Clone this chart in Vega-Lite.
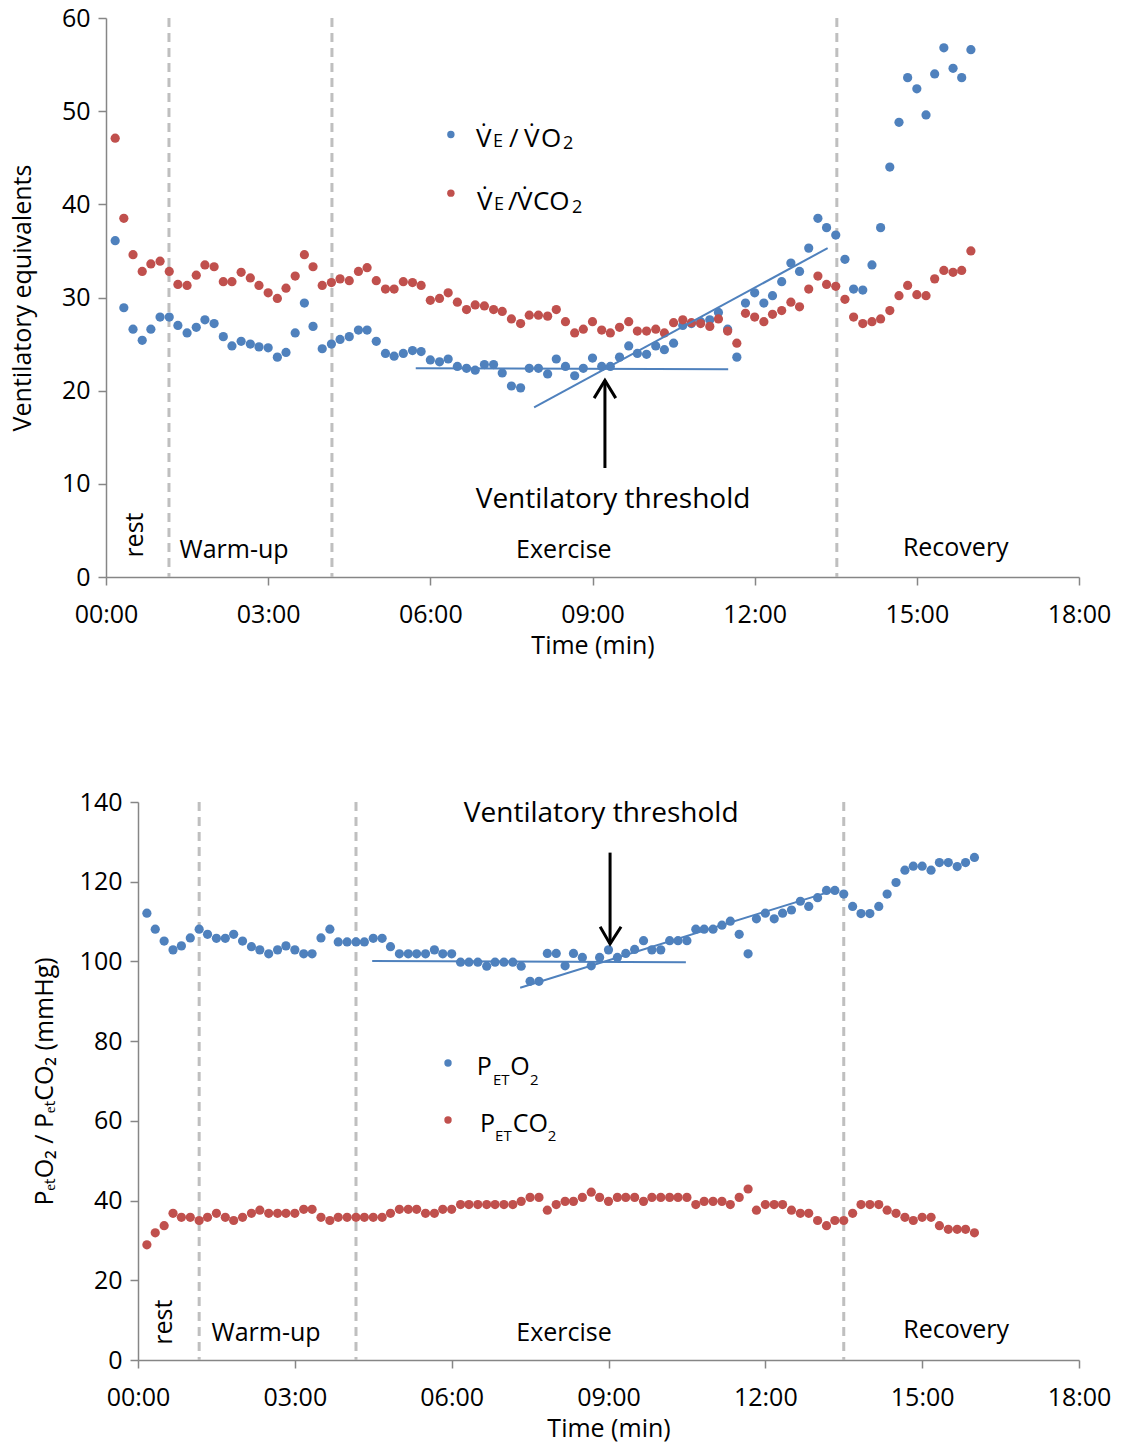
{
"$schema": "https://vega.github.io/schema/vega-lite/v6.json",
"padding": {"left": 10, "top": 6, "right": 5, "bottom": 5},
"spacing": 132,
"config": {
  "view": {"stroke": null},
  "font": "Open Sans",
  "axis": {"grid": false, "labelFlush": false, "labelOverlap": false, "labelFont": "Open Sans", "labelFontSize": 25, "labelColor": "black", "titleFont": "Open Sans", "titleFontSize": 25, "titleFontWeight": "normal", "titleColor": "black", "domainColor": "#868686", "domainWidth": 1.5, "tickColor": "#868686", "tickWidth": 1.5, "tickSize": 8},
  "text": {"font": "Open Sans", "color": "black"}
},
"datasets": {
  "top": [
{"t":0.17,"a":36.1,"b":47.1},{"t":0.33,"a":28.9,"b":38.5},{"t":0.5,"a":26.6,"b":34.6},{"t":0.67,"a":25.4,"b":32.8},{"t":0.83,"a":26.6,"b":33.6},{"t":1,"a":27.9,"b":33.9},
{"t":1.17,"a":27.9,"b":32.8},{"t":1.33,"a":27.0,"b":31.4},{"t":1.5,"a":26.2,"b":31.3},{"t":1.67,"a":26.8,"b":32.4},{"t":1.83,"a":27.6,"b":33.5},{"t":2,"a":27.2,"b":33.3},
{"t":2.17,"a":25.8,"b":31.7},{"t":2.33,"a":24.8,"b":31.7},{"t":2.5,"a":25.3,"b":32.7},{"t":2.67,"a":25.0,"b":32.1},{"t":2.83,"a":24.7,"b":31.3},{"t":3,"a":24.6,"b":30.5},
{"t":3.17,"a":23.6,"b":29.9},{"t":3.33,"a":24.1,"b":31.0},{"t":3.5,"a":26.2,"b":32.3},{"t":3.67,"a":29.4,"b":34.6},{"t":3.83,"a":26.9,"b":33.3},{"t":4,"a":24.5,"b":31.3},
{"t":4.17,"a":25.0,"b":31.6},{"t":4.33,"a":25.5,"b":32.0},{"t":4.5,"a":25.8,"b":31.8},{"t":4.67,"a":26.5,"b":32.8},{"t":4.83,"a":26.5,"b":33.2},{"t":5,"a":25.3,"b":31.8},
{"t":5.17,"a":24.0,"b":30.9},{"t":5.33,"a":23.7,"b":30.9},{"t":5.5,"a":24.0,"b":31.7},{"t":5.67,"a":24.3,"b":31.6},{"t":5.83,"a":24.2,"b":31.3},{"t":6,"a":23.3,"b":29.7},
{"t":6.17,"a":23.1,"b":29.9},{"t":6.33,"a":23.4,"b":30.5},{"t":6.5,"a":22.6,"b":29.5},{"t":6.67,"a":22.4,"b":28.7},{"t":6.83,"a":22.2,"b":29.2},{"t":7,"a":22.8,"b":29.1},
{"t":7.17,"a":22.8,"b":28.7},{"t":7.33,"a":21.9,"b":28.5},{"t":7.5,"a":20.5,"b":27.7},{"t":7.67,"a":20.3,"b":27.2},{"t":7.83,"a":22.4,"b":28.1},{"t":8,"a":22.4,"b":28.1},
{"t":8.17,"a":21.8,"b":28.0},{"t":8.33,"a":23.4,"b":28.7},{"t":8.5,"a":22.6,"b":27.4},{"t":8.67,"a":21.6,"b":26.2},{"t":8.83,"a":22.4,"b":26.6},{"t":9,"a":23.5,"b":27.4},
{"t":9.17,"a":22.6,"b":26.5},{"t":9.33,"a":22.6,"b":26.2},{"t":9.5,"a":23.6,"b":26.8},{"t":9.67,"a":24.8,"b":27.4},{"t":9.83,"a":24.0,"b":26.4},{"t":10,"a":23.9,"b":26.4},
{"t":10.17,"a":24.8,"b":26.6},{"t":10.33,"a":24.4,"b":26.2},{"t":10.5,"a":25.1,"b":27.3},{"t":10.67,"a":27.0,"b":27.6},{"t":10.83,"a":27.2,"b":27.3},{"t":11,"a":27.4,"b":27.2},
{"t":11.17,"a":27.6,"b":26.9},{"t":11.33,"a":28.4,"b":27.7},{"t":11.5,"a":26.6,"b":26.4},{"t":11.67,"a":23.6,"b":25.1},{"t":11.83,"a":29.4,"b":28.3},{"t":12,"a":30.5,"b":27.9},
{"t":12.17,"a":29.4,"b":27.4},{"t":12.33,"a":30.2,"b":28.2},{"t":12.5,"a":31.7,"b":28.6},{"t":12.67,"a":33.7,"b":29.5},{"t":12.83,"a":32.8,"b":29.0},{"t":13,"a":35.3,"b":30.9},
{"t":13.17,"a":38.5,"b":32.3},{"t":13.33,"a":37.5,"b":31.4},{"t":13.5,"a":36.7,"b":31.2},{"t":13.67,"a":34.1,"b":29.8},{"t":13.83,"a":30.9,"b":27.9},{"t":14,"a":30.8,"b":27.2},
{"t":14.17,"a":33.5,"b":27.4},{"t":14.33,"a":37.5,"b":27.7},{"t":14.5,"a":44.0,"b":28.6},{"t":14.67,"a":48.8,"b":30.2},{"t":14.83,"a":53.6,"b":31.3},{"t":15,"a":52.4,"b":30.3},
{"t":15.17,"a":49.6,"b":30.2},{"t":15.33,"a":54.0,"b":32.0},{"t":15.5,"a":56.8,"b":32.9},{"t":15.67,"a":54.6,"b":32.7},{"t":15.83,"a":53.6,"b":32.9},{"t":16,"a":56.6,"b":35.0}
  ],
  "bottom": [
{"t":0.17,"a":112.1,"b":28.9},{"t":0.33,"a":108.1,"b":31.9},{"t":0.5,"a":105.1,"b":33.7},{"t":0.67,"a":102.9,"b":36.8},{"t":0.83,"a":103.9,"b":35.8},{"t":1,"a":105.9,"b":35.8},
{"t":1.17,"a":108.1,"b":35.0},{"t":1.33,"a":106.8,"b":35.8},{"t":1.5,"a":105.8,"b":36.8},{"t":1.67,"a":105.8,"b":35.8},{"t":1.83,"a":106.8,"b":35.0},{"t":2,"a":105.1,"b":35.8},
{"t":2.17,"a":103.7,"b":36.8},{"t":2.33,"a":102.9,"b":37.6},{"t":2.5,"a":101.9,"b":36.8},{"t":2.67,"a":102.9,"b":36.8},{"t":2.83,"a":103.9,"b":36.8},{"t":3,"a":102.9,"b":36.8},
{"t":3.17,"a":101.9,"b":37.8},{"t":3.33,"a":101.9,"b":37.8},{"t":3.5,"a":105.9,"b":35.8},{"t":3.67,"a":108.1,"b":35.0},{"t":3.83,"a":104.9,"b":35.8},{"t":4,"a":104.9,"b":35.8},
{"t":4.17,"a":104.9,"b":35.8},{"t":4.33,"a":104.9,"b":35.8},{"t":4.5,"a":105.8,"b":35.8},{"t":4.67,"a":105.8,"b":35.8},{"t":4.83,"a":103.7,"b":36.8},{"t":5,"a":101.9,"b":37.8},
{"t":5.17,"a":101.9,"b":37.8},{"t":5.33,"a":101.9,"b":37.8},{"t":5.5,"a":101.9,"b":36.8},{"t":5.67,"a":102.9,"b":36.8},{"t":5.83,"a":101.9,"b":37.8},{"t":6,"a":101.9,"b":37.8},
{"t":6.17,"a":99.8,"b":39.0},{"t":6.33,"a":99.8,"b":39.0},{"t":6.5,"a":99.8,"b":39.0},{"t":6.67,"a":98.8,"b":39.0},{"t":6.83,"a":99.8,"b":39.0},{"t":7,"a":99.8,"b":39.0},
{"t":7.17,"a":99.8,"b":39.0},{"t":7.33,"a":98.8,"b":39.8},{"t":7.5,"a":95.0,"b":40.8},{"t":7.67,"a":95.0,"b":40.8},{"t":7.83,"a":102.0,"b":37.6},{"t":8,"a":102.0,"b":39.0},
{"t":8.17,"a":98.9,"b":39.8},{"t":8.33,"a":102.0,"b":39.8},{"t":8.5,"a":101.0,"b":40.8},{"t":8.67,"a":98.9,"b":42.1},{"t":8.83,"a":101.0,"b":40.8},{"t":9,"a":102.9,"b":39.8},
{"t":9.17,"a":101.0,"b":40.8},{"t":9.33,"a":102.0,"b":40.8},{"t":9.5,"a":103.0,"b":40.8},{"t":9.67,"a":105.2,"b":39.8},{"t":9.83,"a":102.9,"b":40.8},{"t":10,"a":102.9,"b":40.8},
{"t":10.17,"a":105.2,"b":40.8},{"t":10.33,"a":105.2,"b":40.8},{"t":10.5,"a":105.2,"b":40.8},{"t":10.67,"a":108.1,"b":39.0},{"t":10.83,"a":108.1,"b":39.8},{"t":11,"a":108.1,"b":39.8},
{"t":11.17,"a":109.1,"b":39.8},{"t":11.33,"a":110.1,"b":39.0},{"t":11.5,"a":106.8,"b":40.8},{"t":11.67,"a":101.9,"b":42.9},{"t":11.83,"a":110.7,"b":37.6},{"t":12,"a":112.1,"b":39.0},
{"t":12.17,"a":110.7,"b":39.0},{"t":12.33,"a":112.1,"b":39.0},{"t":12.5,"a":112.9,"b":37.6},{"t":12.67,"a":115.1,"b":36.8},{"t":12.83,"a":113.8,"b":36.8},{"t":13,"a":116.0,"b":35.0},
{"t":13.17,"a":117.8,"b":33.7},{"t":13.33,"a":117.8,"b":35.0},{"t":13.5,"a":116.9,"b":35.0},{"t":13.67,"a":113.8,"b":36.8},{"t":13.83,"a":112.0,"b":39.0},{"t":14,"a":112.0,"b":39.0},
{"t":14.17,"a":113.8,"b":39.0},{"t":14.33,"a":116.9,"b":37.6},{"t":14.5,"a":119.8,"b":36.8},{"t":14.67,"a":122.9,"b":35.8},{"t":14.83,"a":123.9,"b":35.0},{"t":15,"a":123.9,"b":35.8},
{"t":15.17,"a":122.9,"b":35.8},{"t":15.33,"a":124.8,"b":33.7},{"t":15.5,"a":124.8,"b":32.8},{"t":15.67,"a":123.8,"b":32.8},{"t":15.83,"a":124.8,"b":32.8},{"t":16,"a":126.1,"b":31.9}
  ]
},
"vconcat": [
{
  "width": 973, "height": 559,
  "layer": [
    {"data": {"values": [{"t":1.165},{"t":4.18},{"t":13.52}]},
     "mark": {"type": "rule", "color": "#BFBFBF", "strokeWidth": 3, "strokeDash": [9,6]},
     "encoding": {"x": {"field": "t", "type": "quantitative", "scale": {"domain": [0,18], "nice": false}}}},
    {"data": {"name": "top"},
     "mark": {"type": "point", "filled": true, "size": 85, "opacity": 1, "color": "#4F81BD"},
     "encoding": {
       "x": {"field": "t", "type": "quantitative", "scale": {"domain": [0,18], "nice": false},
             "axis": {"title": "Time (min)", "values": [0,3,6,9,12,15,18], "labelExpr": "(datum.value<10?'0':'')+datum.value+':00'", "labelPadding": 17, "titlePadding": 6}},
       "y": {"field": "a", "type": "quantitative", "scale": {"domain": [0,60], "nice": false},
             "axis": {"title": "Ventilatory equivalents", "values": [0,10,20,30,40,50,60], "labelPadding": 8, "titlePadding": 26}}}},
    {"data": {"name": "top"},
     "mark": {"type": "point", "filled": true, "size": 85, "opacity": 1, "color": "#C0504D"},
     "encoding": {"x": {"field": "t", "type": "quantitative"}, "y": {"field": "b", "type": "quantitative"}}},
    {"data": {"values": [{"id":"h","t":5.73,"v":22.4},{"id":"h","t":11.51,"v":22.3},{"id":"d","t":7.92,"v":18.2},{"id":"d","t":13.35,"v":35.3}]},
     "mark": {"type": "line", "color": "#4F81BD", "strokeWidth": 2},
     "encoding": {"x": {"field": "t", "type": "quantitative"}, "y": {"field": "v", "type": "quantitative"}, "detail": {"field": "id"}}},
    {"data": {"values": [{"id":"s","t":9.23,"v":11.7},{"id":"s","t":9.23,"v":21.1},{"id":"h","t":9.03,"v":19.2},{"id":"h","t":9.23,"v":21.1},{"id":"h","t":9.43,"v":19.2}]},
     "mark": {"type": "line", "color": "black", "strokeWidth": 3},
     "encoding": {"x": {"field": "t", "type": "quantitative"}, "y": {"field": "v", "type": "quantitative"}, "detail": {"field": "id"}}},
    {"data": {"values": [{"t":2.37,"v":2.9,"label":"Warm-up"},{"t":8.47,"v":2.9,"label":"Exercise"},{"t":15.72,"v":3.1,"label":"Recovery"}]},
     "mark": {"type": "text", "fontSize": 25, "align": "center", "baseline": "middle"},
     "encoding": {"x": {"field": "t", "type": "quantitative"}, "y": {"field": "v", "type": "quantitative"}, "text": {"field": "label"}}},
    {"data": {"values": [{"t":0.54,"v":4.5,"label":"rest"}]},
     "mark": {"type": "text", "fontSize": 25, "angle": 270, "align": "center", "baseline": "middle"},
     "encoding": {"x": {"field": "t", "type": "quantitative"}, "y": {"field": "v", "type": "quantitative"}, "text": {"field": "label"}}},
    {"data": {"values": [{"t":9.38,"v":8.26,"label":"Ventilatory threshold"}]},
     "mark": {"type": "text", "fontSize": 28, "align": "center", "baseline": "middle"},
     "encoding": {"x": {"field": "t", "type": "quantitative"}, "y": {"field": "v", "type": "quantitative"}, "text": {"field": "label"}}},
    {"data": {"values": [{"s":"a","t":6.38,"v":47.5},{"s":"b","t":6.38,"v":41.2}]},
     "mark": {"type": "point", "filled": true, "size": 55, "opacity": 1},
     "encoding": {"x": {"field": "t", "type": "quantitative"}, "y": {"field": "v", "type": "quantitative"},
       "color": {"field": "s", "type": "nominal", "scale": {"domain": ["a","b"], "range": ["#4F81BD","#C0504D"]}, "legend": null}}},
    {"data": {"values": [{"t":6.844,"v":46.15,"label":"V̇"},{"t":7.455,"v":46.15,"label":"/"},{"t":7.732,"v":46.15,"label":"V̇"},{"t":8.047,"v":46.15,"label":"O"},
                         {"t":6.863,"v":39.4,"label":"V̇"},{"t":7.436,"v":39.4,"label":"/"},{"t":7.603,"v":39.4,"label":"V̇"},{"t":7.899,"v":39.4,"label":"CO"}]},
     "mark": {"type": "text", "fontSize": 26, "align": "left", "baseline": "alphabetic"},
     "encoding": {"x": {"field": "t", "type": "quantitative"}, "y": {"field": "v", "type": "quantitative"}, "text": {"field": "label"}}},
    {"data": {"values": [{"t":7.159,"v":46.15,"label":"E"},{"t":8.454,"v":45.9,"label":"2"},{"t":7.177,"v":39.4,"label":"E"},{"t":8.62,"v":39.1,"label":"2"}]},
     "mark": {"type": "text", "fontSize": 18, "align": "left", "baseline": "alphabetic"},
     "encoding": {"x": {"field": "t", "type": "quantitative"}, "y": {"field": "v", "type": "quantitative"}, "text": {"field": "label"}}}
  ]
},
{
  "width": 973, "height": 558,
  "layer": [
    {"data": {"values": [{"t":1.17},{"t":4.17},{"t":13.5}]},
     "mark": {"type": "rule", "color": "#BFBFBF", "strokeWidth": 3, "strokeDash": [9,6]},
     "encoding": {"x": {"field": "t", "type": "quantitative", "scale": {"domain": [0,18], "nice": false, "range": [32,973]}}}},
    {"data": {"name": "bottom"},
     "mark": {"type": "point", "filled": true, "size": 85, "opacity": 1, "color": "#4F81BD"},
     "encoding": {
       "x": {"field": "t", "type": "quantitative", "scale": {"domain": [0,18], "nice": false, "range": [32,973]},
             "axis": {"title": "Time (min)", "values": [0,3,6,9,12,15,18], "labelExpr": "(datum.value<10?'0':'')+datum.value+':00'", "labelPadding": 17, "titlePadding": 6}},
       "y": {"field": "a", "type": "quantitative", "scale": {"domain": [0,140], "nice": false},
             "axis": {"title": "PₑₜO₂ / PₑₜCO₂ (mmHg)", "values": [0,20,40,60,80,100,120,140], "labelPadding": 8, "titlePadding": 22, "offset": -32}}}},
    {"data": {"name": "bottom"},
     "mark": {"type": "point", "filled": true, "size": 85, "opacity": 1, "color": "#C0504D"},
     "encoding": {"x": {"field": "t", "type": "quantitative"}, "y": {"field": "b", "type": "quantitative"}}},
    {"data": {"values": [{"id":"h","t":4.48,"v":100.1},{"id":"h","t":10.48,"v":99.8},{"id":"d","t":7.31,"v":93.4},{"id":"d","t":13.33,"v":117.9}]},
     "mark": {"type": "line", "color": "#4F81BD", "strokeWidth": 2},
     "encoding": {"x": {"field": "t", "type": "quantitative"}, "y": {"field": "v", "type": "quantitative"}, "detail": {"field": "id"}}},
    {"data": {"values": [{"id":"s","t":9.03,"v":127.3},{"id":"s","t":9.03,"v":104.4},{"id":"h","t":8.84,"v":108.7},{"id":"h","t":9.03,"v":104.4},{"id":"h","t":9.24,"v":108.7}]},
     "mark": {"type": "line", "color": "black", "strokeWidth": 3},
     "encoding": {"x": {"field": "t", "type": "quantitative"}, "y": {"field": "v", "type": "quantitative"}, "detail": {"field": "id"}}},
    {"data": {"values": [{"t":2.45,"v":6.8,"label":"Warm-up"},{"t":8.15,"v":6.8,"label":"Exercise"},{"t":15.65,"v":7.5,"label":"Recovery"}]},
     "mark": {"type": "text", "fontSize": 25, "align": "center", "baseline": "middle"},
     "encoding": {"x": {"field": "t", "type": "quantitative"}, "y": {"field": "v", "type": "quantitative"}, "text": {"field": "label"}}},
    {"data": {"values": [{"t":0.5,"v":9.5,"label":"rest"}]},
     "mark": {"type": "text", "fontSize": 25, "angle": 270, "align": "center", "baseline": "middle"},
     "encoding": {"x": {"field": "t", "type": "quantitative"}, "y": {"field": "v", "type": "quantitative"}, "text": {"field": "label"}}},
    {"data": {"values": [{"t":8.86,"v":137.0,"label":"Ventilatory threshold"}]},
     "mark": {"type": "text", "fontSize": 28, "align": "center", "baseline": "middle"},
     "encoding": {"x": {"field": "t", "type": "quantitative"}, "y": {"field": "v", "type": "quantitative"}, "text": {"field": "label"}}},
    {"data": {"values": [{"s":"a","t":5.93,"v":74.5},{"s":"b","t":5.93,"v":60.2}]},
     "mark": {"type": "point", "filled": true, "size": 55, "opacity": 1},
     "encoding": {"x": {"field": "t", "type": "quantitative"}, "y": {"field": "v", "type": "quantitative"},
       "color": {"field": "s", "type": "nominal", "scale": {"domain": ["a","b"], "range": ["#4F81BD","#C0504D"]}, "legend": null}}},
    {"data": {"values": [{"t":6.48,"v":71.5,"label":"P"},{"t":7.12,"v":71.5,"label":"O"},{"t":6.54,"v":57.2,"label":"P"},{"t":7.17,"v":57.2,"label":"CO"}]},
     "mark": {"type": "text", "fontSize": 25, "align": "left", "baseline": "alphabetic"},
     "encoding": {"x": {"field": "t", "type": "quantitative"}, "y": {"field": "v", "type": "quantitative"}, "text": {"field": "label"}}},
    {"data": {"values": [{"t":6.79,"v":69.0,"label":"ET"},{"t":7.5,"v":69.0,"label":"2"},{"t":6.83,"v":54.9,"label":"ET"},{"t":7.84,"v":54.9,"label":"2"}]},
     "mark": {"type": "text", "fontSize": 15, "align": "left", "baseline": "alphabetic"},
     "encoding": {"x": {"field": "t", "type": "quantitative"}, "y": {"field": "v", "type": "quantitative"}, "text": {"field": "label"}}}
  ]
}
]
}
